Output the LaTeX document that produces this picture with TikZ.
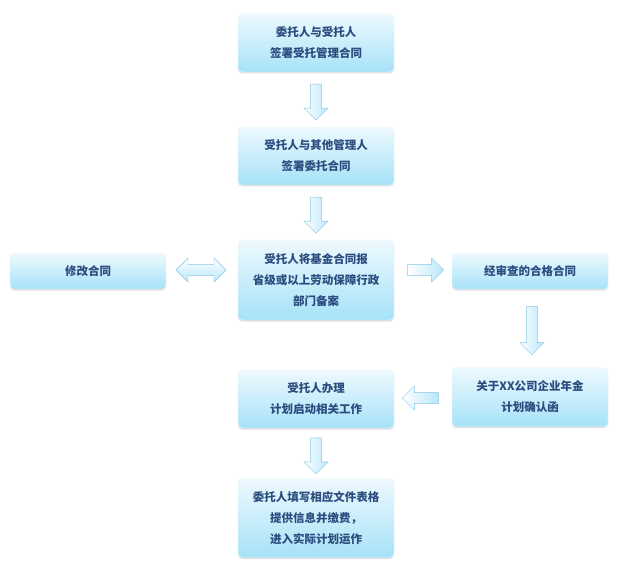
\documentclass[tikz,border=0pt]{standalone}
\usepackage{fontspec}
\newfontfamily\cjk{Noto Sans CJK SC}
\usetikzlibrary{shapes.arrows,shadows,calc}
\definecolor{txt}{HTML}{2B4C7E}
\definecolor{btop}{HTML}{EEF9FE}
\definecolor{bbot}{HTML}{A6E2F8}
\definecolor{aline}{HTML}{86C3E3}
\begin{document}
\begin{tikzpicture}[x=1pt,y=-1pt,
 box/.style={draw=white!85!aline,rounded corners=4pt,top color=btop,bottom color=bbot,
   minimum width=156pt,align=center,font=\cjk\bfseries\fontsize{11.5}{21}\selectfont,text=txt,
   drop shadow={shadow xshift=0pt,shadow yshift=-1.5pt,opacity=0.25}},
 arr/.style={single arrow,draw=aline,left color=white,right color=bbot!80!white,
   minimum height=36pt,minimum width=24pt,single arrow head extend=4pt,inner sep=3pt},
 darr/.style={double arrow,draw=aline,top color=white,bottom color=bbot!80!white,
   minimum height=50pt,minimum width=24pt,double arrow head extend=4pt,inner sep=3pt}]
\path[use as bounding box] (0,0) rectangle (631,569);
\node[box,minimum height=58pt] (b1) at (316,43) {委托人与受托人\\签署受托管理合同};
\node[box,minimum height=58pt] (b2) at (316,156) {受托人与其他管理人\\签署委托合同};
\node[box,minimum height=80pt] (b3) at (316,280) {受托人将基金合同报\\省级或以上劳动保障行政\\部门备案};
\node[box,minimum height=36pt] (l) at (88,271) {修改合同};
\node[box,minimum height=36pt] (r) at (530,271) {经审查的合格合同};
\node[box,minimum height=59pt] (r2) at (530,397) {关于XX公司企业年金\\计划确认函};
\node[box,minimum height=58pt] (b4) at (316,399) {受托人办理\\计划启动相关工作};
\node[box,minimum height=79pt] (b5) at (316,518) {委托人填写相应文件表格\\提供信息并缴费，\\进入实际计划运作};
\node[arr,rotate=-90] (a1) at ($(b1.south)!0.5!(b2.north)$) {};
\node[arr,rotate=-90] (a2) at ($(b2.south)!0.5!(b3.north)$) {};
\node[darr] (a3) at (201,270) {};
\node[arr] (a4) at (423,270) {};
\node[arr,rotate=-90,minimum height=48pt] (a5) at (532,328) {};
\node[arr,rotate=180] (a6) at (423,398) {};
\node[arr,rotate=-90] (a7) at ($(b4.south)!0.5!(b5.north)$) {};
\end{tikzpicture}
\end{document}
